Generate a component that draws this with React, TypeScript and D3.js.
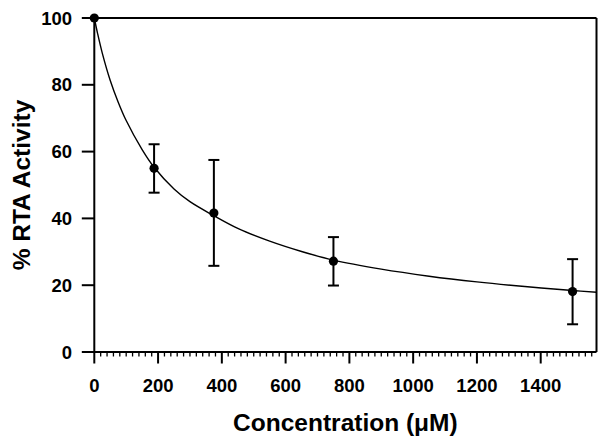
import React from "react";
import * as d3 from "d3";

const concentrations = [0, 187.5, 375, 750, 1500];
const activity = [100, 55, 41.6, 27.2, 18.1];
const errUpper = [100, 62.2, 57.5, 34.4, 27.8];
const errLower = [100, 47.7, 25.8, 19.9, 8.3];

const curveX = [0, 10, 25, 50, 75, 100, 150, 187.5, 250, 300, 375, 450, 550, 650, 750, 900, 1050, 1200, 1350, 1500, 1575];
const curveY = [100, 95.5, 89.5, 81.3, 74.8, 69.3, 60.6, 55.3, 48.8, 45, 40.8, 37, 33.2, 30.1, 27.5, 24.8, 22.7, 21, 19.6, 18.4, 17.9];

const xTicks = [0, 200, 400, 600, 800, 1000, 1200, 1400];
const yTicks = [0, 20, 40, 60, 80, 100];

const W = 609;
const H = 448;
const left = 94.3;
const right = 596.5;
const top = 18;
const bottom = 352;

export default function App() {
  const x = d3.scaleLinear().domain([0, 1575]).range([left, right]);
  const y = d3.scaleLinear().domain([0, 100]).range([bottom, top]);
  const minor = d3.range(0, 1575, 20).filter((v) => v % 200 !== 0);
  const line = d3
    .line<number>()
    .x((_, i) => x(curveX[i]))
    .y((d) => y(d))
    .curve(d3.curveCatmullRom.alpha(0.5));
  const font = "'Liberation Sans', Arial, sans-serif";
  return (
    <svg
      width={W}
      height={H}
      style={{ position: "absolute", left: 0, top: 0, background: "#fff" }}
      fontFamily={font}
    >
      <rect width={W} height={H} fill="#fff" />
      <line x1={left} x2={right} y1={top} y2={top} stroke="#000" strokeWidth={2} />
      <line x1={right} x2={right} y1={top} y2={bottom} stroke="#000" strokeWidth={2} />
      <line x1={left} x2={left} y1={top} y2={bottom} stroke="#000" strokeWidth={2} />
      <line x1={left} x2={right} y1={bottom} y2={bottom} stroke="#000" strokeWidth={2} />
      {yTicks.map((t) => (
        <g key={"y" + t}>
          <line x1={left - 12.5} x2={left} y1={y(t)} y2={y(t)} stroke="#000" strokeWidth={2} />
          <text
            x={72}
            y={y(t)}
            textAnchor="end"
            dominantBaseline="central"
            fontSize={18.5}
            fontWeight="bold"
          >
            {t}
          </text>
        </g>
      ))}
      {xTicks.map((t) => (
        <g key={"x" + t}>
          <line x1={x(t)} x2={x(t)} y1={bottom} y2={bottom + 11.5} stroke="#000" strokeWidth={2} />
          <text x={x(t)} y={391.5} textAnchor="middle" fontSize={18.5} fontWeight="bold">
            {t}
          </text>
        </g>
      ))}
      {minor.map((t) => (
        <line key={"m" + t} x1={x(t)} x2={x(t)} y1={bottom} y2={bottom + 4.5} stroke="#000" strokeWidth={1.3} />
      ))}
      <path d={line(curveY) || ""} fill="none" stroke="#000" strokeWidth={1.4} />
      {concentrations.map((c, i) =>
        errUpper[i] !== errLower[i] ? (
          <g key={"e" + i} stroke="#000" strokeWidth={2}>
            <line x1={x(c)} x2={x(c)} y1={y(errUpper[i])} y2={y(errLower[i])} />
            <line x1={x(c) - 5.5} x2={x(c) + 5.5} y1={y(errUpper[i])} y2={y(errUpper[i])} />
            <line x1={x(c) - 5.5} x2={x(c) + 5.5} y1={y(errLower[i])} y2={y(errLower[i])} />
          </g>
        ) : null
      )}
      {concentrations.map((c, i) => (
        <circle key={"p" + i} cx={x(c)} cy={y(activity[i])} r={4.6} fill="#000" />
      ))}
      <text
        x={(left + right) / 2}
        y={431}
        textAnchor="middle"
        fontSize={24.5}
        fontWeight="bold"
      >
        Concentration (μM)
      </text>
      <text
        transform={`translate(29.5, ${(top + bottom) / 2}) rotate(-90)`}
        textAnchor="middle"
        fontSize={24.5}
        fontWeight="bold"
      >
        % RTA Activity
      </text>
    </svg>
  );
}
